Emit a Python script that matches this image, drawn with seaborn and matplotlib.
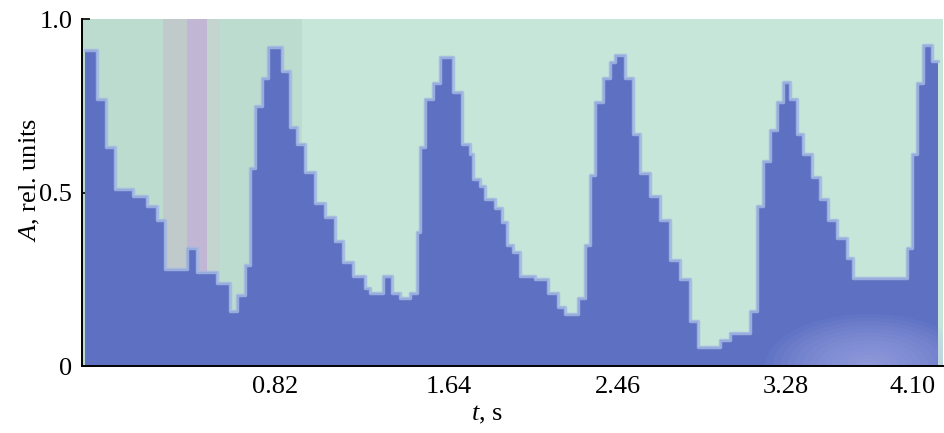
import numpy as np
import pandas as pd
import matplotlib
matplotlib.use("Agg")
import matplotlib.pyplot as plt
import matplotlib.transforms as mtransforms
from matplotlib.patches import Ellipse
import seaborn as sns

# step start times (s) and amplitude (rel. units)
t_start = [-0.095, -0.037, 0.006, 0.050, 0.136, 0.204, 0.252, 0.290, 0.396, 0.444,
           0.541, 0.603, 0.637, 0.675, 0.699, 0.724, 0.757, 0.786, 0.854, 0.892,
           0.926, 0.964, 1.012, 1.060, 1.109, 1.147, 1.195, 1.253, 1.277, 1.340,
           1.383, 1.422, 1.470, 1.504, 1.518, 1.542, 1.581, 1.614, 1.677, 1.720,
           1.759, 1.773, 1.807, 1.831, 1.879, 1.913, 1.937, 1.966, 2.000, 2.072,
           2.135, 2.183, 2.216, 2.279, 2.313, 2.337, 2.361, 2.400, 2.433, 2.457,
           2.505, 2.544, 2.578, 2.626, 2.674, 2.722, 2.770, 2.818, 2.857, 2.963,
           3.011, 3.107, 3.141, 3.170, 3.203, 3.237, 3.266, 3.299, 3.333, 3.362,
           3.406, 3.443, 3.483, 3.526, 3.574, 3.603, 3.863, 3.887, 3.911, 3.940,
           3.983]
amplitude = [0.91, 0.77, 0.63, 0.51, 0.49, 0.46, 0.42, 0.28, 0.34, 0.27,
             0.24, 0.16, 0.205, 0.29, 0.57, 0.75, 0.83, 0.92, 0.85, 0.69,
             0.64, 0.56, 0.47, 0.43, 0.36, 0.30, 0.26, 0.225, 0.21, 0.26,
             0.21, 0.195, 0.21, 0.385, 0.63, 0.77, 0.815, 0.89, 0.79, 0.64,
             0.61, 0.54, 0.52, 0.48, 0.455, 0.415, 0.35, 0.33, 0.26, 0.25,
             0.21, 0.17, 0.15, 0.195, 0.35, 0.55, 0.76, 0.83, 0.875, 0.895,
             0.83, 0.67, 0.555, 0.49, 0.42, 0.305, 0.25, 0.13, 0.055, 0.075,
             0.095, 0.16, 0.46, 0.59, 0.68, 0.76, 0.82, 0.77, 0.67, 0.61,
             0.545, 0.48, 0.42, 0.37, 0.31, 0.255, 0.34, 0.61, 0.815, 0.925,
             0.88]
t_end = 4.012

x_ticks = [0.82, 1.658, 2.472, 3.28, 3.94]
x_tick_labels = ["0.82", "1.64", "2.46", "3.28", "4.10"]
y_ticks = [0, 0.5, 1.0]
y_tick_labels = ["0", "0.5", "1.0"]

edges = t_start + [t_end]
mids = [(a + b) / 2 for a, b in zip(edges[:-1], edges[1:])]
df = pd.DataFrame({"t": mids, "A": amplitude})

sns.set_theme(style="white")
plt.rcParams["font.family"] = ["Liberation Serif", "DejaVu Serif"]
plt.rcParams["mathtext.fontset"] = "custom"
plt.rcParams["mathtext.it"] = "Liberation Serif:italic"
plt.rcParams["mathtext.rm"] = "Liberation Serif"

fig = plt.figure(figsize=(9.45, 4.33), dpi=100)
ax = fig.add_axes([0.0868, 0.1547, 0.9112, 0.8013])
ax.set_facecolor("#c6e6da")

# subtle background tint (top-left greyer) and vertical stripe artefact
ax.axvspan(-0.2, 0.95, color="#b3d0c4", alpha=0.45, lw=0, zorder=0)
ax.axvspan(0.281, 0.396, color="#c4bfc8", alpha=0.6, lw=0, zorder=1)
ax.axvspan(0.396, 0.493, color="#c3a6d6", alpha=0.7, lw=0, zorder=1)
ax.axvspan(0.493, 0.555, color="#ccd0d0", alpha=0.5, lw=0, zorder=1)

sns.histplot(data=df, x="t", weights="A", bins=edges, element="step", fill=True,
             color="#5d70c2", alpha=1.0, linewidth=0, ax=ax, zorder=2)

# soft light halo along the edge
step_df = pd.DataFrame({"t": edges, "A": amplitude + [amplitude[-1]]})
sns.lineplot(data=step_df, x="t", y="A", drawstyle="steps-post", sort=False,
             color="#a3b8e2", linewidth=2.5, alpha=0.85, ax=ax, zorder=3,
             estimator=None)

# bottom-right glow artefact
for k in range(14):
    f = 1 - k / 14
    ax.add_patch(Ellipse((3.68, 0.0), 1.0 * f, 0.30 * f, color="#b0b6ee",
                         alpha=0.07, lw=0, zorder=5))

ax.set_xlim(-0.109, 4.036)
ax.set_ylim(0, 1.0)
ax.set_xticks(x_ticks)
ax.set_xticklabels(x_tick_labels)
ax.set_yticks(y_ticks)
ax.set_yticklabels(y_tick_labels)
ax.tick_params(direction="in", length=6, width=1.2, colors="black", labelsize=19,
               pad=7, bottom=True, left=True)
for s in ["top", "right"]:
    ax.spines[s].set_visible(False)
for s in ["left", "bottom"]:
    ax.spines[s].set_color("black")
    ax.spines[s].set_linewidth(1.4)
    ax.spines[s].set_zorder(10)

# last tick label sits a little left of its tick, as in the original
last = ax.get_xticklabels()[-1]
last.set_transform(last.get_transform() +
                   mtransforms.ScaledTranslation(-0.11, 0, fig.dpi_scale_trans))

ax.set_xlabel(r"$t$, s", fontsize=19, color="black")
ax.set_ylabel(r"$A$, rel. units", fontsize=19, color="black")
ax.xaxis.set_label_coords(0.47, -0.11)
ax.yaxis.set_label_coords(-0.047, 0.535)

fig.savefig("out.png", dpi=100)
